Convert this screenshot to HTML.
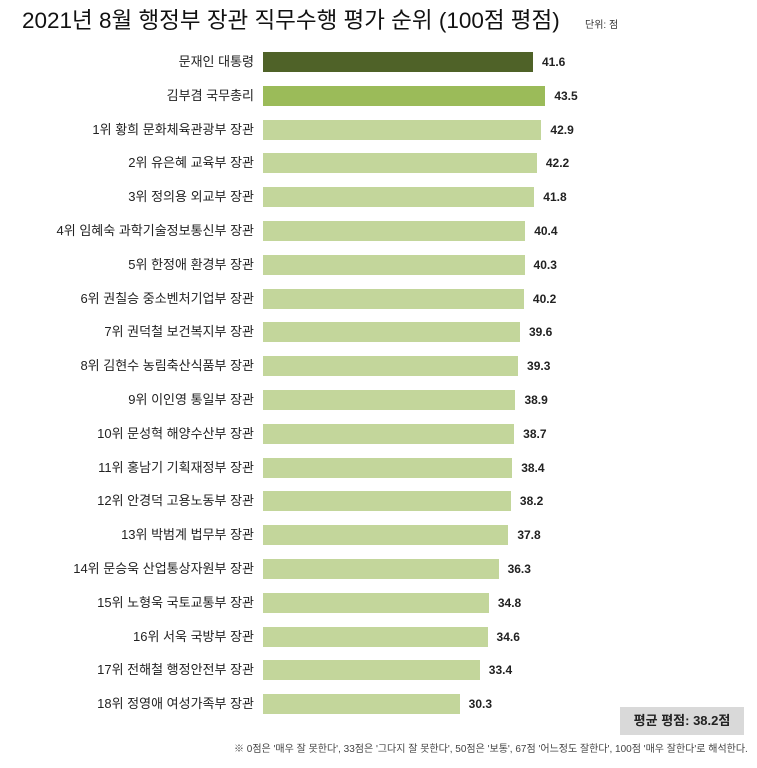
<!DOCTYPE html>
<html><head><meta charset="utf-8"><style>
body{margin:0;width:757px;height:768px;background:#fff;position:relative;overflow:hidden;font-family:"Liberation Sans","Noto Sans CJK KR",sans-serif;}
.t{position:absolute;left:22px;top:3px;font-size:22.5px;color:#111;white-space:nowrap;}
.u{position:absolute;left:585px;top:16px;font-size:10px;color:#333;}
.l{position:absolute;right:503px;font-size:13px;color:#222;white-space:nowrap;line-height:20px;}
.b{position:absolute;left:263px;height:20px;background:#c3d69b;}
.v{position:absolute;font-size:12px;font-weight:bold;color:#222;line-height:20px;}
.box{position:absolute;left:620px;top:707px;width:124px;height:28px;background:#d9d9d9;font-size:13px;font-weight:bold;line-height:28px;text-align:center;color:#222;}
.f{position:absolute;left:234px;top:740px;font-size:10px;color:#444;white-space:nowrap;}
</style></head><body>
<div class="t">2021년 8월 행정부 장관 직무수행 평가 순위 (100점 평점)</div>
<div class="u">단위: 점</div>
<div id="c"></div>
<div class="box">평균 평점: 38.2점</div>
<div class="f">※ 0점은 '매우 잘 못한다', 33점은 '그다지 잘 못한다', 50점은 '보통', 67점 '어느정도 잘한다', 100점 '매우 잘한다'로 해석한다.</div>
<script>
var d=[["문재인 대통령",41.6],["김부겸 국무총리",43.5],["1위 황희 문화체육관광부 장관",42.9],["2위 유은혜 교육부 장관",42.2],["3위 정의용 외교부 장관",41.8],["4위 임혜숙 과학기술정보통신부 장관",40.4],["5위 한정애 환경부 장관",40.3],["6위 권칠승 중소벤처기업부 장관",40.2],["7위 권덕철 보건복지부 장관",39.6],["8위 김현수 농림축산식품부 장관",39.3],["9위 이인영 통일부 장관",38.9],["10위 문성혁 해양수산부 장관",38.7],["11위 홍남기 기획재정부 장관",38.4],["12위 안경덕 고용노동부 장관",38.2],["13위 박범계 법무부 장관",37.8],["14위 문승욱 산업통상자원부 장관",36.3],["15위 노형욱 국토교통부 장관",34.8],["16위 서욱 국방부 장관",34.6],["17위 전해철 행정안전부 장관",33.4],["18위 정영애 여성가족부 장관",30.3]];
var h="";
d.forEach(function(r,i){var y=52+i*33.8,w=r[1]*6.49;var c=i==0?"#4f6228":i==1?"#9bbb59":"#c3d69b";
h+='<div class="l" style="top:'+y+'px">'+r[0]+'</div><div class="b" style="top:'+y+'px;width:'+w+'px;background:'+c+'"></div><div class="v" style="top:'+y+'px;left:'+(263+w+9)+'px">'+r[1].toFixed(1)+'</div>';});
document.getElementById("c").innerHTML=h;
</script>
</body></html>
